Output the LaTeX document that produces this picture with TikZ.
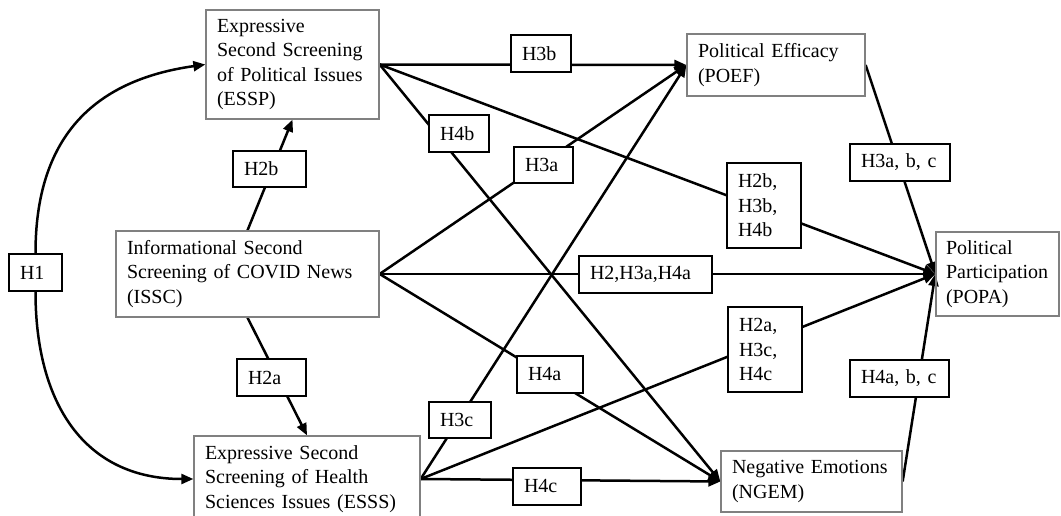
\documentclass[tikz,border=0pt]{standalone}
\usepackage{fontspec}
\setmainfont{Liberation Serif}
\usetikzlibrary{arrows.meta}
\pgfdeclarelayer{bg}
\pgfsetlayers{bg,main}
\tikzset{
  txt/.style={font=\fontsize{20}{24.5}\selectfont, align=left},
  mainbox/.style={txt, draw=black!50, line width=1.3pt, inner xsep=11pt, inner ysep=0pt},
  hyp/.style={txt, draw=black, line width=2pt, fill=white, inner xsep=11pt, inner ysep=0pt},
  conn/.style={line width=2.5pt},
  arr/.style={conn, -{Triangle[length=12pt,width=10pt]}},
}
\newcommand{\bx}[7]{\node[#1, minimum width=#5pt, minimum height=#6pt, text width=#5pt-22pt] (#2) at (#3,#4) {#7};}
\begin{document}
\begin{tikzpicture}[x=1pt,y=-1pt]
\useasboundingbox (0,0) rectangle (1061,516);
% main boxes
\bx{mainbox}{ESSP}{292.5}{64.5}{173}{109}{Expressive\\Second Screening\\of Political Issues\\(ESSP)}
\bx{mainbox}{ISSC}{247.5}{274}{263}{86}{Informational Second\\Screening of COVID News\\(ISSC)}
\bx{mainbox}{ESSS}{307}{479}{226}{86}{Expressive Second\\Screening of Health\\Sciences Issues (ESSS)}
\bx{mainbox}{POEF}{776}{65}{178}{62}{Political Efficacy\\(POEF)}
\node[mainbox, inner xsep=10pt, minimum width=123pt, minimum height=84pt, text width=103pt] (POPA) at (997.5,274) {Political\\Participation\\(POPA)};
\bx{mainbox}{NGEM}{811.5}{481.5}{181}{61}{Negative Emotions\\(NGEM)}
% hypothesis labels
\bx{hyp}{h1}{35.5}{272.5}{53}{37}{H1}
\bx{hyp}{h2b}{269.5}{169}{73}{36}{H2b}
\bx{hyp}{h2a}{271.5}{377.5}{69}{37}{H2a}
\bx{hyp}{h3b}{541}{53.5}{60}{37}{H3b}
\bx{hyp}{h4b}{459}{133.5}{60}{37}{H4b}
\bx{hyp}{h3a}{543.5}{165}{59}{36}{H3a}
\bx{hyp}{h3abc}{900}{162.5}{100}{37}{H3a,~b,~c}
\bx{hyp}{h2bb}{764}{205.5}{74}{85}{H2b,\\H3b,\\H4b}
\bx{hyp}{h2all}{645.5}{274.5}{133}{37}{H2,H3a,H4a}
\bx{hyp}{h2ac}{765}{349.5}{74}{85}{H2a,\\H3c,\\H4c}
\bx{hyp}{h4abc}{899.5}{378.5}{99}{37}{H4a,~b,~c}
\bx{hyp}{h4a}{550}{374.5}{66}{37}{H4a}
\bx{hyp}{h3c}{460}{420}{62}{36}{H3c}
\bx{hyp}{h4c}{547}{486.5}{68}{37}{H4c}
% connectors
\begin{pgfonlayer}{bg}
\draw[arr] (h1.north) to[out=90,in=188,looseness=1.15] (ESSP.west);
\draw[arr] (h1.south) to[out=-90,in=180,looseness=1.15] (ESSS.west);
\draw[arr] (ISSC.north) -- (ESSP.south);
\draw[arr] (ISSC.south) -- (ESSS.north);
\draw[arr] (ESSP.east) -- (POEF.west);
\draw[arr] (ESSP.east) -- (NGEM.west);
\draw[arr] (ESSP.east) -- (POPA.west);
\draw[arr] (ISSC.east) -- (POEF.west);
\draw[arr] (ISSC.east) -- (POPA.west);
\draw[arr] (ISSC.east) -- (NGEM.west);
\draw[arr] (ESSS.east) -- (POEF.west);
\draw[arr] (ESSS.east) -- (POPA.west);
\draw[arr] (ESSS.east) -- (NGEM.west);
\draw[arr] (POEF.east) -- (POPA.west);
\draw[arr] (NGEM.east) -- (POPA.west);
\end{pgfonlayer}
\end{tikzpicture}
\end{document}
